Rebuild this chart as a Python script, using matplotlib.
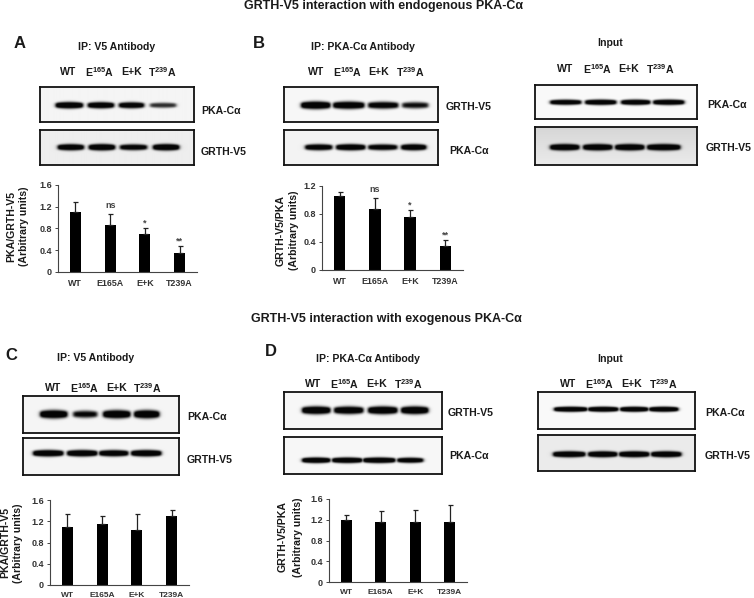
import numpy as np
import matplotlib
matplotlib.use("Agg")
from matplotlib import pyplot as plt

plt.rcParams['font.family'] = ['Liberation Sans', 'DejaVu Sans']
plt.rcParams['mathtext.fontset'] = 'custom'
plt.rcParams['mathtext.bf'] = 'Liberation Sans:bold'
plt.rcParams['mathtext.rm'] = 'Liberation Sans'

W, H = 754, 598
TXT = '#1a1a1a'

# bar chart data
genotypes = ['WT', 'E165A', 'E+K', 'T239A']

a_values = [1.10, 0.87, 0.69, 0.35]
a_errors = [0.18, 0.19, 0.12, 0.13]
a_marks = ['', 'ns', '*', '**']

b_values = [1.05, 0.87, 0.76, 0.34]
b_errors = [0.07, 0.16, 0.10, 0.09]
b_marks = ['', 'ns', '*', '**']

c_values = [1.10, 1.15, 1.03, 1.29]
c_errors = [0.24, 0.14, 0.30, 0.13]

d_values = [1.19, 1.16, 1.16, 1.16]
d_errors = [0.11, 0.20, 0.23, 0.33]

# lane labels above the blots
lanes = ['WT', r'E$^{\mathbf{165}}$A', 'E+K', r'T$^{\mathbf{239}}$A']

# band darkness per lane
a_pka = [1.0, 0.95, 0.9, 0.6]
a_grth = [0.95, 1.0, 0.85, 1.0]
b_grth = [1.0, 0.95, 0.85, 0.7]
b_pka = [0.9, 0.95, 0.85, 0.95]
in1_pka = [0.9, 0.95, 0.95, 0.95]
in1_grth = [1.0, 1.0, 1.0, 1.0]
c_pka = [1.0, 0.75, 1.0, 1.0]
c_grth = [1.0, 1.0, 0.95, 1.0]
d_grth = [1.0, 0.95, 1.0, 1.0]
d_pka = [1.0, 1.0, 1.0, 0.9]
in2_pka = [1.0, 1.0, 1.0, 1.0]
in2_grth = [1.0, 1.0, 1.0, 1.0]

fig = plt.figure(figsize=(W / 100, H / 100), dpi=100, facecolor='white')


def px_axes(x0, y0, x1, y1):
    return fig.add_axes([x0 / W, 1 - y1 / H, (x1 - x0) / W, (y1 - y0) / H])


def label(x, y, s, size=7.6, ha='center', rotation=0, weight='bold', color=TXT):
    fig.text(x / W, 1 - y / H, s, fontsize=size, ha=ha, va='center',
             rotation=rotation, fontweight=weight, color=color)


def blot(box, yc, spans, dark, thick=3.0, bg=0.97, bg_low=None):
    x0, y0, x1, y1 = box
    xs, ys = np.meshgrid(np.arange(x0, x1, 0.5), np.arange(y0, y1, 0.5))
    img = np.full(xs.shape, 0.0)
    for (a, b), d in zip(spans, dark):
        t = np.clip((xs - a) / (b - a), 0, 1)
        th = thick * (0.85 + 0.25 * np.sin(np.pi * t)) * (0.55 + 0.45 * d)
        edge = 1 / (1 + np.exp(-(xs - a) / 1.0)) * 1 / (1 + np.exp((xs - b) / 1.0))
        core = np.exp(-np.abs((ys - yc) / th) ** 2.6) * edge
        img = np.maximum(img, np.clip(core * 1.4 * d, 0, 1))
    back = np.full(xs.shape, bg)
    if bg_low is not None:
        back = bg + (bg_low - bg) * np.clip((ys - y0) / (y1 - y0), 0, 1)
    ax = px_axes(x0, y0, x1, y1)
    ax.imshow(back * (1 - img) + 0.02 * img, cmap='gray', vmin=0, vmax=1, aspect='auto',
              extent=(x0, x1, y1, y0), interpolation='bilinear')
    ax.set_xticks([])
    ax.set_yticks([])
    for s in ax.spines.values():
        s.set_linewidth(1.3)
        s.set_color('#111111')


def bars(box, values, errors, ymax, ticks, marks=None, size=6.4):
    x0, y0, x1, y1 = box
    ax = px_axes(x0, y0, x1, y1)
    pos = np.arange(len(values))
    ax.bar(pos, values, width=0.32, color='black')
    ax.errorbar(pos, values, yerr=[np.zeros(len(errors)), errors], fmt='none',
                ecolor='#222222', elinewidth=0.9, capsize=1.8, capthick=0.9)
    ax.set_xlim(-0.5, len(values) - 0.5)
    ax.set_ylim(0, ymax)
    ax.set_yticks(ticks)
    ax.set_yticklabels(['0' if t == 0 else '%.1f' % t for t in ticks],
                       fontsize=6.5, fontweight='bold', color='#333333')
    ax.set_xticks(pos)
    ax.set_xticklabels(genotypes, fontsize=size, fontweight='bold', color='#333333')
    ax.tick_params(axis='x', length=0, pad=5)
    ax.tick_params(axis='y', length=2.5, width=0.7, pad=2, color='#444444')
    ax.spines['top'].set_visible(False)
    ax.spines['right'].set_visible(False)
    ax.spines['left'].set_color('#444444')
    ax.spines['bottom'].set_color('#444444')
    ax.patch.set_alpha(0)
    if marks:
        for p, v, e, m in zip(pos, values, errors, marks):
            if m:
                ax.annotate(m, (p, v + e), xytext=(0, 3 if m == 'ns' else 0.5),
                            textcoords='offset points', ha='center', va='bottom',
                            fontsize=6.5, color='#444444', fontweight='bold')


def lane_row(y, xs):
    for x, s in zip(xs, lanes):
        label(x, y, s)


# titles
label(383.5, 5.5, 'GRTH-V5 interaction with endogenous PKA-C\u03b1', size=9)
label(386.5, 319, 'GRTH-V5 interaction with exogenous PKA-C\u03b1', size=9)

# panel A
label(20, 43, 'A', size=12)
label(117, 47, 'IP: V5 Antibody', size=7.6)
lane_row(72, [68, 99, 132, 162])
blot((39.5, 87, 194, 122), 105, [(55, 82), (87, 113), (118, 143), (149, 175)], a_pka, bg=0.96)
blot((39.5, 130, 194, 165), 147, [(57, 83), (88, 114), (119, 146), (152, 178)], a_grth, bg=0.93)
label(201, 111, 'PKA-C\u03b1', ha='left')
label(201, 152, 'GRTH-V5', ha='left')
bars((58, 185, 197, 272), a_values, a_errors, 1.6, [0, 0.4, 0.8, 1.2, 1.6], a_marks)
label(11, 226, 'PKA/GRTH-V5', rotation=90)
label(24, 226, '(Arbitrary units)', rotation=90)

# panel B
label(259, 43, 'B', size=12)
label(363, 47, 'IP: PKA-C\u03b1 Antibody', size=7.6)
lane_row(72, [316, 347, 379, 410])
blot((284, 87, 438, 122), 105, [(301, 330), (333, 364), (368, 398), (402, 428)], b_grth, bg=0.97, thick=3.5)
blot((284, 130, 438, 165), 147, [(305, 332), (336, 365), (368, 397), (401, 426)], b_pka, bg=0.95)
label(446, 107, 'GRTH-V5', ha='left')
label(449, 151, 'PKA-C\u03b1', ha='left')
bars((322, 186, 463, 270), b_values, b_errors, 1.2, [0, 0.4, 0.8, 1.2], b_marks)
label(281, 230, 'GRTH-V5/PKA', rotation=90)
label(294, 230, '(Arbitrary units)', rotation=90)

# top input
label(610, 43, 'Input', size=7.6)
lane_row(69, [565, 597, 629, 660])
blot((535, 85, 697, 119), 102, [(550, 581), (585, 616), (621, 650), (653, 684)], in1_pka, bg=0.98, thick=2.6)
blot((535, 127, 697, 165), 147, [(550, 579), (583, 612), (615, 644), (647, 680)], in1_grth, bg=0.84, thick=3.0, bg_low=0.92)
label(707, 105, 'PKA-C\u03b1', ha='left')
label(706, 148, 'GRTH-V5', ha='left')

# panel C
label(11, 356, 'C', size=12)
label(96, 358, 'IP: V5 Antibody', size=7.6)
lane_row(388, [53, 84, 117, 147])
blot((23, 396, 179, 433), 414, [(40, 67), (73, 97), (103, 130), (134, 159)], c_pka, bg=0.96, thick=3.8)
blot((23, 438, 179, 475), 453, [(33, 63), (67, 97), (99, 128), (131, 161)], c_grth, bg=0.96, thick=3.0)
label(187, 417, 'PKA-C\u03b1', ha='left')
label(187, 460, 'GRTH-V5', ha='left')
bars((50, 500, 189, 585), c_values, c_errors, 1.6, [0, 0.4, 0.8, 1.2, 1.6], size=6)
label(5.5, 543, 'PKA/GRTH-V5', rotation=90)
label(18, 543, '(Arbitrary units)', rotation=90)

# panel D
label(271, 351, 'D', size=12)
label(368, 359, 'IP: PKA-C\u03b1 Antibody', size=7.6)
lane_row(384, [313, 344, 377, 408])
blot((284, 392, 442, 429), 410, [(302, 330), (334, 363), (368, 397), (401, 428)], d_grth, bg=0.97, thick=3.6)
blot((284, 437, 442, 474), 460, [(302, 330), (332, 362), (363, 395), (397, 423)], d_pka, bg=0.97, thick=2.6)
label(448, 413, 'GRTH-V5', ha='left')
label(449, 456, 'PKA-C\u03b1', ha='left')
bars((329, 499, 467, 582), d_values, d_errors, 1.6, [0, 0.4, 0.8, 1.2, 1.6], size=6)
label(283, 537, 'GRTH-V5/PKA', rotation=90)
label(298, 537, '(Arbitrary units)', rotation=90)

# bottom input
label(610, 359, 'Input', size=7.6)
lane_row(384, [568, 599, 632, 663])
blot((538, 392, 695, 429), 409, [(554, 587), (588, 618), (620, 648), (649, 678)], in2_pka, bg=0.98, thick=2.4)
blot((538, 435, 695, 471), 454, [(553, 585), (588, 617), (619, 649), (651, 681)], in2_grth, bg=0.92, thick=2.8)
label(705, 413, 'PKA-C\u03b1', ha='left')
label(705, 456, 'GRTH-V5', ha='left')

fig.savefig("out.png", dpi=100)
